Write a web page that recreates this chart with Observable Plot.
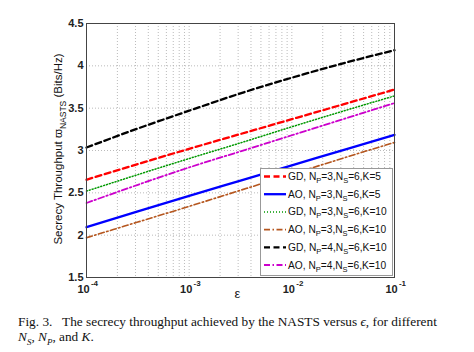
<!DOCTYPE html>
<html><head><meta charset="utf-8">
<script src="https://cdn.jsdelivr.net/npm/d3@7"></script>
<script src="https://cdn.jsdelivr.net/npm/@observablehq/plot@0.6"></script>
<style>
body{margin:0;background:#fff;}
#wrap{position:relative;width:474px;height:352px;}
#caption{position:absolute;left:18px;top:315px;font-family:"Liberation Serif","DejaVu Serif",serif;font-size:13.3px;line-height:14.7px;color:#111;white-space:nowrap;}
#legend{position:absolute;left:260px;top:168px;}
</style></head>
<body><div id="wrap"><div id="chart"></div><div id="legend"></div>
<div id="caption">Fig. 3.&nbsp;&nbsp; The secrecy throughput achieved by the NASTS versus <i>ϵ</i>, for different<br><i>N<sub style="font-size:9px">S</sub></i>, <i>N<sub style="font-size:9px">P</sub></i>, and <i>K</i>.</div></div>
<script>
const epsilon = [1e-4, 10 ** -3.5, 1e-3, 10 ** -2.5, 1e-2, 10 ** -1.5, 1e-1];
const gd_np3_k5  = [2.655, 2.84, 3.02, 3.195, 3.37, 3.545, 3.72];
const ao_np3_k5  = [2.095, 2.28, 2.465, 2.645, 2.825, 3.005, 3.185];
const gd_np3_k10 = [2.52, 2.715, 2.905, 3.09, 3.28, 3.465, 3.645];
const ao_np3_k10 = [1.97, 2.155, 2.34, 2.53, 2.72, 2.91, 3.095];
const gd_np4_k10 = [3.035, 3.26, 3.47, 3.675, 3.86, 4.03, 4.185];
const ao_np4_k10 = [2.38, 2.595, 2.80, 2.99, 3.18, 3.37, 3.56];
const seriesNames = ["GD, Np=3,Ns=6,K=5","AO, Np=3,Ns=6,K=5","GD, Np=3,Ns=6,K=10","AO, Np=3,Ns=6,K=10","GD, Np=4,Ns=6,K=10","AO, Np=4,Ns=6,K=10"];
const legendLabels = [["GD","3","6","5"],["AO","3","6","5"],["GD","3","6","10"],["AO","3","6","10"],["GD","4","6","10"],["AO","4","6","10"]];
const yTicks = [1.5, 2, 2.5, 3, 3.5, 4, 4.5];
const xTicks = [1e-4, 1e-3, 1e-2, 1e-1];
const xTickExp = ["-4", "-3", "-2", "-1"];

const styles = [
  {stroke:"#ff0000", dash:"6,3.5", w:2.3},
  {stroke:"#0000ff", dash:null, w:2.3},
  {stroke:"#009900", dash:"1,2", w:1.5},
  {stroke:"#b5561e", dash:"6,2.5,1.5,2.5", w:1.6},
  {stroke:"#000000", dash:"6,3.5", w:2.3},
  {stroke:"#cc00cc", dash:"6,2.5,1.5,2.5", w:1.8}
];
const allSeries = [gd_np3_k5, ao_np3_k5, gd_np3_k10, ao_np3_k10, gd_np4_k10, ao_np4_k10];
const data = allSeries.map((vals, i) => vals.map((v, j) => ({eps: epsilon[j], y: v, s: seriesNames[i]})));

const minor = [];
for (let k = -4; k < -1; k++) for (let m = 2; m <= 9; m++) minor.push(m * Math.pow(10, k));

const font = "'Liberation Sans', Arial, sans-serif";
const chart = Plot.plot({
  width: 474, height: 305,
  marginLeft: 86, marginRight: 80, marginTop: 23, marginBottom: 28,
  style: {fontFamily: font, fontSize: "11px", color: "#222", background: "#fff"},
  x: {type: "log", domain: [1e-4, 1e-1], axis: null},
  y: {type: "linear", domain: [1.5, 4.5], axis: null},
  marks: [
    Plot.ruleX(minor.concat(xTicks.slice(1, 3)), {x: d => d, stroke: "#aaa", strokeWidth: 0.8, strokeDasharray: "1,2"}),
    Plot.ruleY(yTicks.slice(1, -1), {y: d => d, stroke: "#aaa", strokeWidth: 0.8, strokeDasharray: "1,2"}),
    ...data.map((d, i) => Plot.line(d, {x: "eps", y: "y", stroke: styles[i].stroke, strokeWidth: styles[i].w, strokeDasharray: styles[i].dash, curve: "monotone-x"})),
    Plot.frame({stroke: "#444", strokeWidth: 1}),
    Plot.text(yTicks, {x: () => 1e-4, y: d => d, text: d => String(d), textAnchor: "end", dx: -3, fontSize: 11, fontWeight: "bold", fill: "#222"}),
    Plot.text(xTicks, {x: d => d, y: () => 1.5, text: () => "10", dy: 12, dx: -3, fontSize: 11, fontWeight: "bold", fill: "#222"}),
    Plot.text(xTicks, {x: d => d, y: () => 1.5, text: (d, i) => xTickExp[i], dy: 6, dx: 8, fontSize: 8, fontWeight: "bold", fill: "#222"}),
    Plot.text(["ε"], {x: () => 10 ** -2.53, y: () => 1.5, text: d => d, dy: 16, fontSize: 13, fill: "#222"})
  ]
});
document.getElementById("chart").appendChild(chart);

// y-axis label with subscript
const svg = d3.select(chart);
const yl = svg.append("text")
  .attr("transform", "translate(62,149) rotate(-90)")
  .attr("text-anchor", "middle")
  .attr("font-family", font).attr("font-size", 11.5).attr("fill", "#111");
yl.append("tspan").text("Secrecy Throughput ϖ");
yl.append("tspan").attr("font-size", 8.5).attr("dy", 4).text("NASTS");
yl.append("tspan").attr("dy", -4).text(" (Bits/Hz)");

// legend
const lw = 132, lh = 107;
const leg = d3.select("#legend").append("svg").attr("width", lw + 2).attr("height", lh + 2);
leg.append("rect").attr("x", 0.5).attr("y", 0.5).attr("width", lw).attr("height", lh).attr("fill", "#fff").attr("stroke", "#999");
legendLabels.forEach((lab, i) => {
  const cy = 8.5 + i * 17.7;
  leg.append("line").attr("x1", 4).attr("x2", 26).attr("y1", cy).attr("y2", cy)
    .attr("stroke", styles[i].stroke).attr("stroke-width", styles[i].w).attr("stroke-dasharray", styles[i].dash);
  const t = leg.append("text").attr("x", 28).attr("y", cy + 3.5).attr("font-family", font).attr("font-size", 10.2).attr("fill", "#111");
  t.append("tspan").text(lab[0] + ", N");
  t.append("tspan").attr("font-size", 7.5).attr("dy", 3).text("P");
  t.append("tspan").attr("dy", -3).text("=" + lab[1] + ",N");
  t.append("tspan").attr("font-size", 7.5).attr("dy", 3).text("S");
  t.append("tspan").attr("dy", -3).text("=" + lab[2] + ",K=" + lab[3]);
});
</script></body></html>
